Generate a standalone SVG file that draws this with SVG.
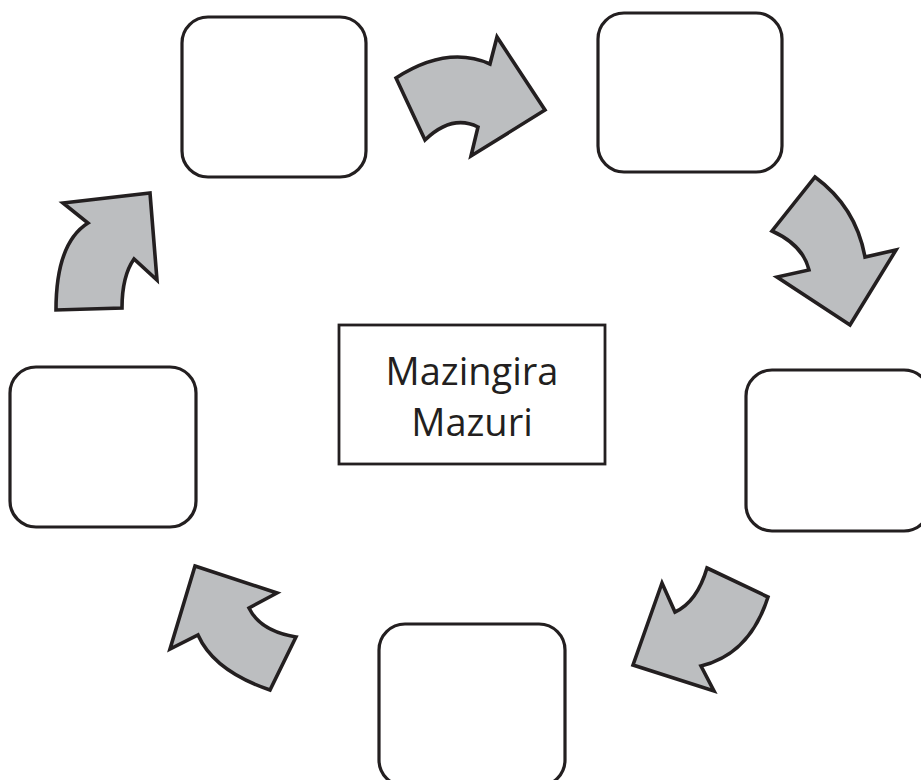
<svg xmlns="http://www.w3.org/2000/svg" width="921" height="780" viewBox="0 0 921 780">
<style>
.box{fill:#fff;stroke:#231f20;stroke-width:3.2}
.arr{fill:#bcbec0;stroke:#231f20;stroke-width:3.6;stroke-linejoin:miter}
.lbl{font-family:"Open Sans","Noto Sans",sans-serif;font-size:38px;fill:#231f20;text-anchor:middle}
</style>
<rect width="921" height="780" fill="#fff"/>
<g id="center">
<rect x="339" y="325" width="266" height="139" fill="#fff" stroke="#231f20" stroke-width="2.8"/>
<text class="lbl" x="472" y="385">Mazingira</text>
<text class="lbl" x="472" y="436">Mazuri</text>
</g>
<g id="box-top-left"><rect class="box" x="182" y="17" width="184" height="160" rx="26"/></g>
<g id="box-top-right"><rect class="box" x="598" y="13" width="184" height="159" rx="26"/></g>
<g id="box-right"><rect class="box" x="746" y="370" width="184" height="161" rx="26"/></g>
<g id="box-bottom"><rect class="box" x="379" y="624" width="186" height="162" rx="26"/></g>
<g id="box-left"><rect class="box" x="10" y="367" width="186" height="160" rx="26"/></g>
<g id="connectors">
<path class="arr" d="M396,78 Q447,45 490,64 L497,37 L545,110 L471,156 L478,127 Q452,114 425,140 Z"/>
<path class="arr" d="M815,177 Q856,207 865,257 L896,250 L850,325 L777,277 L809,270 Q803,245 772,231 Z"/>
<path class="arr" d="M707,568 L768,597 Q750,654 701,666 L714,691 L633,665 L662,583 L675,612 Q697,602 707,568 Z"/>
<path class="arr" d="M195,566 L277,593 L249,608 Q260,631 296,637 L270,690 Q214,671 198,635 L170,649 Z"/>
<path class="arr" d="M63,203 L150,193 L157,280 L134,259 Q122,276 122,308 L56,310 Q56,243 88,223 Z"/>
</g>
</svg>
